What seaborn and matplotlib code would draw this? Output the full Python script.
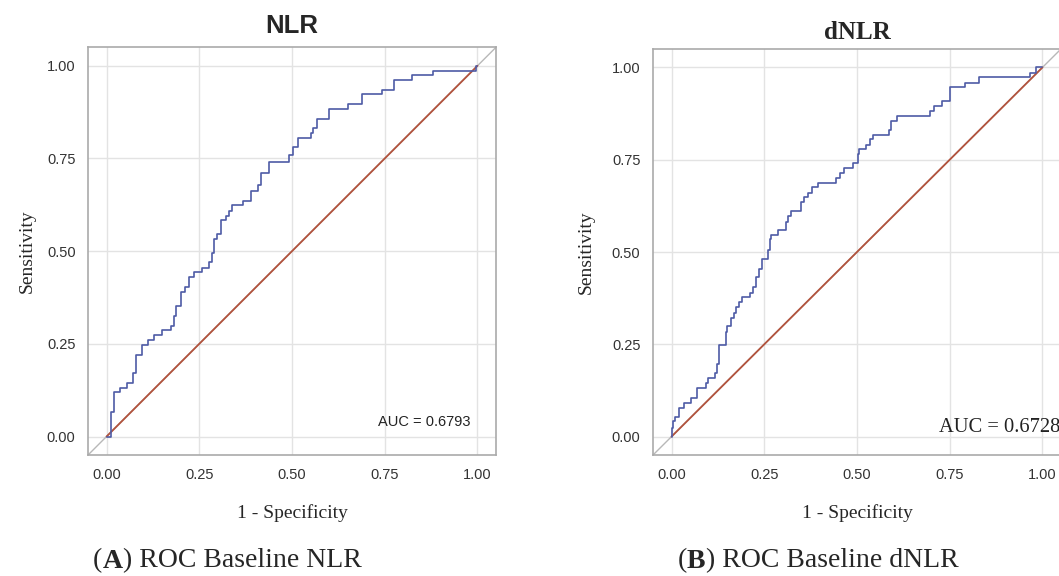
import numpy as np
import pandas as pd
import matplotlib
matplotlib.use('Agg')
import matplotlib.pyplot as plt
import seaborn as sns

# ROC step points: (1 - specificity, sensitivity)
nlr_fpr = [0.000, 0.011, 0.020, 0.036, 0.056, 0.072, 0.080, 0.095, 0.111, 0.127,
           0.149, 0.174, 0.183, 0.186, 0.202, 0.211, 0.222, 0.235, 0.258, 0.276,
           0.283, 0.290, 0.299, 0.308, 0.321, 0.330, 0.338, 0.367, 0.389, 0.409,
           0.416, 0.437, 0.493, 0.502, 0.516, 0.552, 0.557, 0.566, 0.600, 0.650,
           0.690, 0.742, 0.774, 0.824, 0.880, 0.995, 1.000]
nlr_tpr = [0.000, 0.066, 0.119, 0.130, 0.144, 0.171, 0.221, 0.248, 0.261, 0.274,
           0.288, 0.299, 0.326, 0.351, 0.389, 0.404, 0.429, 0.443, 0.455, 0.470,
           0.495, 0.533, 0.546, 0.584, 0.596, 0.609, 0.624, 0.636, 0.663, 0.679,
           0.712, 0.741, 0.759, 0.780, 0.805, 0.820, 0.832, 0.856, 0.883, 0.897,
           0.924, 0.935, 0.961, 0.975, 0.987, 1.000, 1.000]

dnlr_fpr = [0.000, 0.000, 0.003, 0.010, 0.021, 0.033, 0.052, 0.069, 0.093, 0.098,
            0.118, 0.123, 0.129, 0.146, 0.150, 0.159, 0.168, 0.175, 0.181, 0.191,
            0.211, 0.220, 0.227, 0.236, 0.245, 0.259, 0.265, 0.269, 0.286, 0.308,
            0.313, 0.322, 0.349, 0.357, 0.367, 0.378, 0.394, 0.444, 0.455, 0.464,
            0.488, 0.503, 0.506, 0.524, 0.534, 0.543, 0.586, 0.593, 0.609, 0.696,
            0.708, 0.729, 0.751, 0.792, 0.828, 0.966, 0.982, 1.000]
dnlr_tpr = [0.000, 0.023, 0.041, 0.054, 0.078, 0.092, 0.105, 0.131, 0.144, 0.158,
            0.171, 0.196, 0.248, 0.284, 0.299, 0.322, 0.335, 0.351, 0.365, 0.378,
            0.390, 0.405, 0.431, 0.455, 0.482, 0.505, 0.534, 0.547, 0.559, 0.581,
            0.597, 0.610, 0.635, 0.649, 0.660, 0.676, 0.687, 0.701, 0.714, 0.728,
            0.741, 0.766, 0.779, 0.791, 0.805, 0.818, 0.831, 0.856, 0.869, 0.881,
            0.896, 0.908, 0.948, 0.959, 0.973, 0.986, 1.000, 1.000]

titles = ['NLR', 'dNLR']
auc_labels = ['AUC = 0.6793', 'AUC = 0.6728']
captions = [('A', ') ROC Baseline NLR'), ('B', ') ROC Baseline dNLR')]
ticks = [0.0, 0.25, 0.5, 0.75, 1.0]
tick_labels = ['0.00', '0.25', '0.50', '0.75', '1.00']

sns.set_theme(style='whitegrid')
plt.rcParams['font.family'] = ['Liberation Sans', 'DejaVu Sans']
plt.rcParams['axes.edgecolor'] = '#aaaaaa'
plt.rcParams['grid.color'] = '#e3e3e3'

blue = '#4e5ba6'
red = '#b2533d'
serif = ['Liberation Serif', 'DejaVu Serif']

fig = plt.figure(figsize=(10.59, 5.76), dpi=100)
ax1 = fig.add_axes([0.0831, 0.210, 0.3853, 0.708])
ax2 = fig.add_axes([0.6166, 0.210, 0.3853, 0.705])

curves = [(nlr_fpr, nlr_tpr), (dnlr_fpr, dnlr_tpr)]
ypads = [8, 12]
for i, ax in enumerate([ax1, ax2]):
    fpr, tpr = curves[i]
    df = pd.DataFrame({'fpr': fpr, 'tpr': tpr})
    ax.set_xlim(-0.05, 1.05)
    ax.set_ylim(-0.05, 1.05)
    ax.axline((0, 0), slope=1, color='#b8b8b8', lw=1.0, zorder=1)
    sns.lineplot(x=[0, 1], y=[0, 1], ax=ax, color=red, lw=1.3, zorder=2)
    sns.lineplot(data=df, x='fpr', y='tpr', ax=ax, estimator=None, sort=False,
                 drawstyle='steps-post', color=blue, lw=1.2, zorder=3)
    ax.set_xticks(ticks)
    ax.set_yticks(ticks)
    ax.set_xticklabels(tick_labels)
    ax.set_yticklabels(tick_labels)
    ax.tick_params(axis='both', length=4, width=0.8, color='#aaaaaa',
                   labelsize=10.5, labelcolor='#333333', pad=5)
    ax.grid(True, lw=1.0)
    for sp in ax.spines.values():
        sp.set_linewidth(1.2)
    ax.set_xlabel('1 - Specificity', family=serif, fontsize=14, labelpad=16)
    ax.set_ylabel('Sensitivity', family=serif, fontsize=14, labelpad=ypads[i])

ax1.set_title(titles[0], fontsize=18.5, fontweight='bold', pad=10)
ax2.set_title(titles[1], fontsize=18, fontweight='bold', family=serif, pad=7)
ax1.text(0.98, 0.04, auc_labels[0], ha='right', va='center', fontsize=10.5,
         color='#222222')
ax2.text(1.049, 0.025, auc_labels[1], ha='right', va='center', fontsize=14.8,
         family=serif, color='#222222')

# captions under each panel
for i, xc in enumerate([0.088, 0.640]):
    letter, rest = captions[i]
    t = fig.text(xc, 0.026, '(', family=serif, fontsize=20, va='center')
    fig.canvas.draw()
    bb = t.get_window_extent()
    t2 = fig.text(bb.x1 / fig.bbox.width, 0.026, letter, family=serif, fontsize=20,
                  fontweight='bold', va='center')
    fig.canvas.draw()
    bb2 = t2.get_window_extent()
    fig.text(bb2.x1 / fig.bbox.width, 0.026, rest, family=serif, fontsize=20,
             va='center')

fig.savefig('out.png', dpi=100)
